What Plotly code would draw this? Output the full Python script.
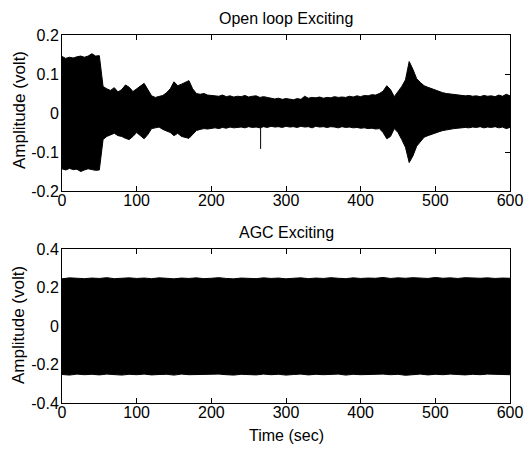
import plotly.graph_objects as go
from plotly.subplots import make_subplots

# ---- data (signal envelopes) ----
t_top = list(range(0, 605, 5))
open_upper = [0.145, 0.140, 0.143, 0.141, 0.144, 0.146, 0.143, 0.146, 0.152, 0.146, 0.147,
              0.068, 0.062, 0.058, 0.065, 0.054, 0.060, 0.072, 0.066, 0.055, 0.062,
              0.070, 0.076, 0.060, 0.044, 0.040, 0.042, 0.045, 0.052, 0.062, 0.080,
              0.070, 0.074, 0.078, 0.083, 0.062, 0.050, 0.048, 0.050, 0.046, 0.045,
              0.044, 0.043, 0.046, 0.042, 0.044, 0.041, 0.043, 0.042, 0.045, 0.041,
              0.043, 0.044, 0.040, 0.042, 0.040, 0.038, 0.036, 0.038, 0.035, 0.037,
              0.036, 0.034, 0.037, 0.035, 0.043, 0.038, 0.040, 0.039, 0.041, 0.038,
              0.040, 0.039, 0.042, 0.040, 0.041, 0.040, 0.043, 0.041, 0.044, 0.042,
              0.045, 0.044, 0.047, 0.046, 0.050, 0.056, 0.070, 0.060, 0.042, 0.055,
              0.068, 0.085, 0.132, 0.112, 0.088, 0.078, 0.070, 0.066, 0.062, 0.058,
              0.056, 0.052, 0.050, 0.049, 0.047, 0.046, 0.045, 0.044, 0.045, 0.043,
              0.044, 0.042, 0.045, 0.043, 0.044, 0.042, 0.046, 0.043, 0.048, 0.044]
open_lower = [-0.143, -0.146, -0.142, -0.145, -0.144, -0.150, -0.146, -0.143, -0.145, -0.147, -0.146,
              -0.068, -0.060, -0.055, -0.052, -0.058, -0.060, -0.065, -0.068, -0.060, -0.050,
              -0.058, -0.066, -0.055, -0.040, -0.038, -0.036, -0.042, -0.045, -0.050, -0.058,
              -0.052, -0.060, -0.062, -0.065, -0.055, -0.045, -0.042, -0.040, -0.041, -0.039,
              -0.038, -0.040, -0.037, -0.039, -0.036, -0.038, -0.037, -0.036, -0.038, -0.035,
              -0.037, -0.036, -0.038, -0.035, -0.037, -0.034, -0.036, -0.035, -0.037, -0.034,
              -0.036, -0.035, -0.037, -0.034, -0.036, -0.035, -0.038, -0.034, -0.036, -0.035,
              -0.037, -0.035, -0.036, -0.038, -0.035, -0.037, -0.036, -0.038, -0.037, -0.039,
              -0.038, -0.040, -0.039, -0.041, -0.040, -0.050, -0.066, -0.060, -0.040, -0.050,
              -0.068, -0.088, -0.127, -0.110, -0.085, -0.072, -0.062, -0.058, -0.054, -0.050,
              -0.048, -0.045, -0.043, -0.042, -0.040, -0.039, -0.038, -0.037, -0.038, -0.036,
              -0.037, -0.035, -0.038, -0.036, -0.037, -0.035, -0.038, -0.036, -0.040, -0.037]
spike_t = [266, 266]
spike_v = [0.0, -0.092]

t_bot = list(range(0, 610, 10))
agc_upper = [0.245, 0.250, 0.248, 0.246, 0.249, 0.247, 0.251, 0.246, 0.248, 0.250, 0.247,
             0.249, 0.246, 0.250, 0.248, 0.245, 0.249, 0.247, 0.250, 0.246, 0.248,
             0.251, 0.247, 0.245, 0.249, 0.248, 0.246, 0.250, 0.247, 0.249, 0.245,
             0.248, 0.250, 0.246, 0.249, 0.247, 0.251, 0.248, 0.246, 0.250, 0.247,
             0.249, 0.248, 0.252, 0.247, 0.250, 0.248, 0.251, 0.249, 0.247, 0.252,
             0.248, 0.250, 0.247, 0.251, 0.249, 0.248, 0.250, 0.247, 0.249, 0.248]
agc_lower = [-0.252, -0.255, -0.250, -0.253, -0.251, -0.254, -0.250, -0.252, -0.255, -0.251, -0.253,
             -0.250, -0.254, -0.252, -0.251, -0.255, -0.250, -0.253, -0.252, -0.254, -0.251,
             -0.250, -0.253, -0.255, -0.251, -0.252, -0.254, -0.250, -0.253, -0.251, -0.255,
             -0.252, -0.250, -0.254, -0.251, -0.253, -0.252, -0.250, -0.255, -0.251, -0.253,
             -0.252, -0.254, -0.250, -0.253, -0.251, -0.256, -0.252, -0.250, -0.254, -0.251,
             -0.253, -0.250, -0.252, -0.254, -0.251, -0.253, -0.250, -0.252, -0.251, -0.253]

x_ticks = [0, 100, 200, 300, 400, 500, 600]
x_labels = ["0", "100", "200", "300", "400", "500", "600"]
top_yticks = [-0.2, -0.1, 0, 0.1, 0.2]
top_ylabels = ["-0.2", "-0.1", "0", "0.1", "0.2"]
bot_yticks = [-0.4, -0.2, 0, 0.2, 0.4]
bot_ylabels = ["-0.4", "-0.2", "0", "0.2", "0.4"]

FONT = "Liberation Sans, Arial, sans-serif"

fig = make_subplots(rows=2, cols=1)

def band(t, lo, hi, row):
    fig.add_trace(go.Scatter(x=t, y=lo, mode="lines", line=dict(color="black", width=1),
                             showlegend=False, hoverinfo="skip"), row=row, col=1)
    fig.add_trace(go.Scatter(x=t, y=hi, mode="lines", line=dict(color="black", width=1),
                             fill="tonexty", fillcolor="black", showlegend=False, hoverinfo="skip"),
                  row=row, col=1)

band(t_top, open_lower, open_upper, 1)
fig.add_trace(go.Scatter(x=spike_t, y=spike_v, mode="lines", line=dict(color="black", width=1),
                         showlegend=False, hoverinfo="skip"), row=1, col=1)
band(t_bot, agc_lower, agc_upper, 2)

axis_common = dict(showline=True, linecolor="black", linewidth=1, mirror="ticks",
                   ticks="inside", ticklen=5, tickcolor="black", showgrid=False, zeroline=False,
                   automargin=False, ticklabeloverflow="allow",
                   tickfont=dict(family=FONT, size=16, color="black"))

fig.update_xaxes(range=[0, 600], tickvals=x_ticks, ticktext=x_labels, ticklabelstandoff=-5,
                 **axis_common)
fig.update_yaxes(ticklabelstandoff=-1, **axis_common)
fig.update_yaxes(range=[-0.2, 0.2], tickvals=top_yticks, ticktext=top_ylabels, domain=[0.576, 1], row=1, col=1)
fig.update_yaxes(range=[-0.4, 0.4], tickvals=bot_yticks, ticktext=bot_ylabels, domain=[0, 0.4185], row=2, col=1)

ann_font = dict(family=FONT, size=16, color="black")
ylab_font = dict(family=FONT, size=17, color="black")
fig.update_layout(
    template="none",
    width=524, height=450,
    margin=dict(l=62, r=14, t=35, b=47, autoexpand=False),
    plot_bgcolor="white", paper_bgcolor="white",
    annotations=[
        dict(text="Open loop Exciting", x=0.5, y=1.0435, xref="paper", yref="paper",
             showarrow=False, font=ann_font, yanchor="middle"),
        dict(text="AGC Exciting", x=0.5, y=0.462, xref="paper", yref="paper",
             showarrow=False, font=ann_font, yanchor="middle"),
        dict(text="Time (sec)", x=0.5, y=-0.087, xref="paper", yref="paper",
             showarrow=False, font=ann_font, yanchor="middle"),
        dict(text="Amplitude (volt)", x=-0.096, y=0.796, xref="paper", yref="paper",
             showarrow=False, font=ylab_font, textangle=-90, xanchor="center", yanchor="middle"),
        dict(text="Amplitude (volt)", x=-0.096, y=0.212, xref="paper", yref="paper",
             showarrow=False, font=ylab_font, textangle=-90, xanchor="center", yanchor="middle"),
    ],
)

fig.write_html("out.html")
